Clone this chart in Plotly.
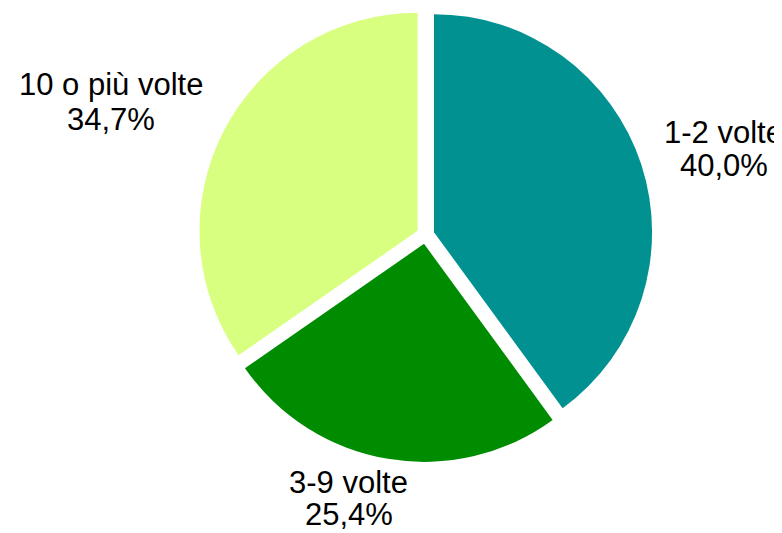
import plotly.graph_objects as go

# frequenza (quota %)
categorie = ["1-2 volte", "3-9 volte", "10 o più volte"]
percentuali = [40.0, 25.4, 34.7]
etichette_pct = ["40,0%", "25,4%", "34,7%"]
colori = ["#009190", "#008C00", "#D8FF80"]

W, H = 782, 533
OFF = 8  # page body margin in the browser

fig = go.Figure()

fig.add_trace(go.Pie(
    labels=categorie,
    values=percentuali,
    sort=False,
    direction="clockwise",
    rotation=0,
    pull=0.041,
    marker=dict(colors=colori, line=dict(width=0)),
    textinfo="none",
    hoverinfo="skip",
    showlegend=False,
    domain=dict(x=[(197.5 - OFF) / W, (653.5 - OFF) / W],
                y=[1 - (462 - OFF) / H, 1]),
))

# label positions (pixel centres of each text line)
pos_label = {
    "1-2 volte": (723.5, 132, 165),
    "3-9 volte": (348.7, 482, 514),
    "10 o più volte": (110.5, 84, 119),
}

for cat, pct in zip(categorie, etichette_pct):
    x, y1, y2 = pos_label[cat]
    for txt, y in [(cat, y1), (pct, y2)]:
        fig.add_annotation(
            x=(x - OFF) / W, y=1 - (y - OFF) / H, xref="paper", yref="paper",
            text=txt, showarrow=False,
            xanchor="center", yanchor="middle",
            font=dict(family="Liberation Sans, Arial", size=31, color="black"),
        )

fig.update_layout(
    width=W, height=H,
    margin=dict(l=0, r=0, t=0, b=0),
    paper_bgcolor="white",
    plot_bgcolor="white",
)

fig.write_html("out.html")
